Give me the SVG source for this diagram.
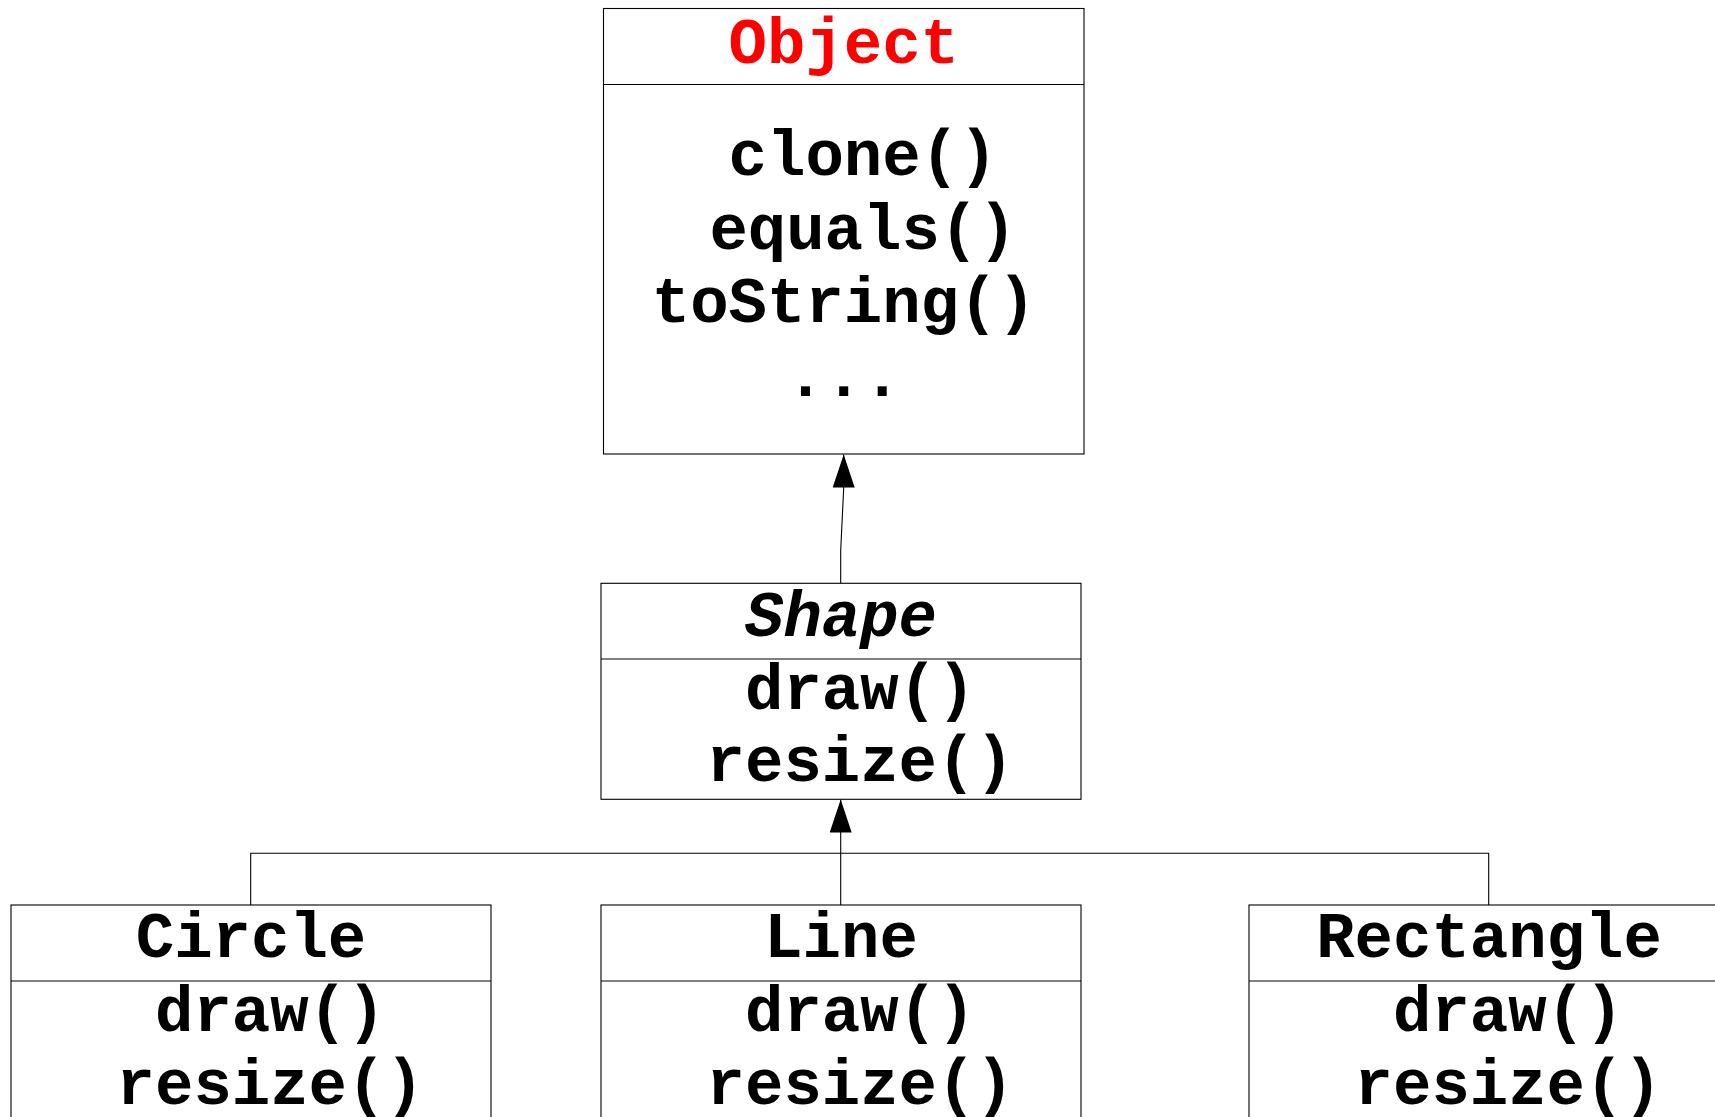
<svg xmlns="http://www.w3.org/2000/svg" width="1715" height="1117" viewBox="0 0 1715 1117">
  <style>
    .box { fill: #ffffff; stroke: #000000; stroke-width: 1.1; }
    .div { stroke: #000000; stroke-width: 1.1; }
    .txt { font-family: "Liberation Mono", "Courier New", monospace; font-weight: bold; font-size: 64px; fill: #000000; text-anchor: middle; }
    .title { fill: #ff0000; }
    .abstract { font-style: italic; }
    .conn { fill: none; stroke: #000000; stroke-width: 1.1; }
  </style>
  <defs>
    <marker id="arrow" viewBox="0 0 33 22" refX="33" refY="11" markerWidth="33" markerHeight="22" markerUnits="userSpaceOnUse" orient="auto">
      <path d="M0,0 L33,11 L0,22 Z" fill="#000000"/>
    </marker>
  </defs>
  <rect width="1715" height="1117" fill="#ffffff"/>

  <!-- inheritance connectors -->
  <g id="connectors">
    <path class="conn" d="M840.7,583.3 L840.7,550 L843.7,488 L843.7,454.5" marker-end="url(#arrow)"/>
    <path class="conn" d="M840.7,905 L840.7,799.5" marker-end="url(#arrow)"/>
    <path class="conn" d="M250.7,905 L250.7,853.3 L1488.7,853.3 L1488.7,905"/>
  </g>

  <g id="node-object">
    <rect class="box" x="603.5" y="8.5" width="480.5" height="445.5"/>
    <line class="div" x1="603.5" y1="84.5" x2="1084" y2="84.5"/>
    <text class="txt title" x="843.8" y="63">Object</text>
    <text class="txt" x="863" y="175">clone()</text>
    <text class="txt" x="863" y="249">equals()</text>
    <text class="txt" x="843.8" y="322">toString()</text>
    <text class="txt" x="843.8" y="396">...</text>
  </g>

  <g id="node-shape">
    <rect class="box" x="601" y="583.3" width="480" height="216"/>
    <line class="div" x1="601" y1="659" x2="1081" y2="659"/>
    <text class="txt abstract" x="841" y="636">Shape</text>
    <text class="txt" x="860.2" y="709">draw()</text>
    <text class="txt" x="860.2" y="781">resize()</text>
  </g>

  <g id="node-circle">
    <rect class="box" x="11" y="905" width="480" height="240"/>
    <line class="div" x1="11" y1="981" x2="491" y2="981"/>
    <text class="txt" x="251" y="957">Circle</text>
    <text class="txt" x="270.2" y="1031">draw()</text>
    <text class="txt" x="270.2" y="1104">resize()</text>
  </g>

  <g id="node-line">
    <rect class="box" x="601" y="905" width="480" height="240"/>
    <line class="div" x1="601" y1="981" x2="1081" y2="981"/>
    <text class="txt" x="841" y="957">Line</text>
    <text class="txt" x="860.2" y="1031">draw()</text>
    <text class="txt" x="860.2" y="1104">resize()</text>
  </g>

  <g id="node-rectangle">
    <rect class="box" x="1249" y="905" width="480" height="240"/>
    <line class="div" x1="1249" y1="981" x2="1729" y2="981"/>
    <text class="txt" x="1489" y="957">Rectangle</text>
    <text class="txt" x="1508.2" y="1031">draw()</text>
    <text class="txt" x="1508.2" y="1104">resize()</text>
  </g>
</svg>
